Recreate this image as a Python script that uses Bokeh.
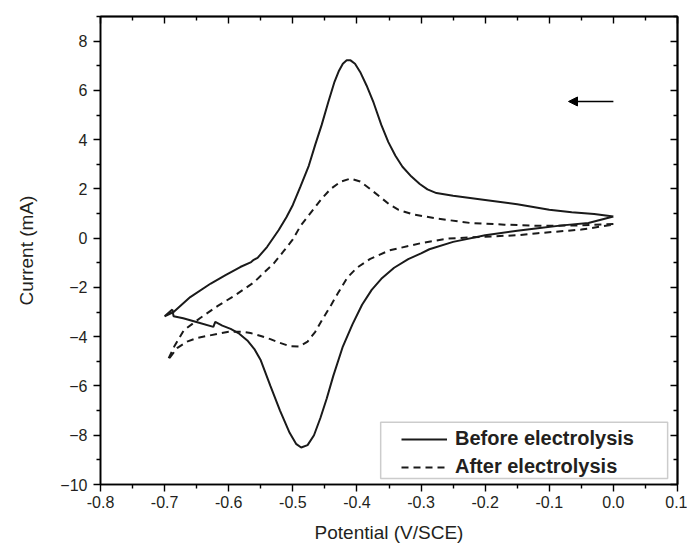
from bokeh.plotting import figure
from bokeh.models import (LinearAxis, FixedTicker, PrintfTickFormatter, Legend, LegendItem,
                          Arrow, NormalHead, BoxAnnotation, Range1d)
from bokeh.embed import file_html
from bokeh.resources import INLINE

# ---- data ----
before_x = [0.0, -0.03, -0.065, -0.1, -0.15, -0.2, -0.25, -0.276, -0.29, -0.302, -0.315, -0.329,
            -0.34, -0.351, -0.362, -0.374, -0.385, -0.395, -0.403, -0.41, -0.416, -0.422, -0.428,
            -0.435, -0.445, -0.455, -0.465, -0.475, -0.488, -0.5, -0.51, -0.522, -0.54, -0.555,
            -0.561, -0.565, -0.582, -0.605, -0.628, -0.66, -0.686, -0.70, -0.688, -0.686,
            -0.671, -0.649, -0.624, -0.621, -0.61, -0.597, -0.585, -0.571, -0.56, -0.55, -0.535,
            -0.52, -0.505, -0.495, -0.487, -0.477, -0.467, -0.457, -0.447, -0.437, -0.422, -0.407,
            -0.392, -0.377, -0.362, -0.342, -0.32, -0.3, -0.287, -0.25, -0.2, -0.15, -0.118,
            -0.08, -0.039, 0.0]
before_y = [0.88, 0.98, 1.05, 1.15, 1.38, 1.55, 1.72, 1.83, 1.98, 2.2, 2.5, 2.9,
            3.35, 3.9, 4.6, 5.5, 6.2, 6.75, 7.08, 7.22, 7.22, 7.08, 6.8,
            6.35, 5.5, 4.6, 3.8, 2.95, 2.1, 1.35, 0.85, 0.33, -0.35, -0.8,
            -0.88, -0.97, -1.17, -1.5, -1.84, -2.39, -3.0, -3.17, -2.9, -3.17,
            -3.25, -3.41, -3.6, -3.4, -3.55, -3.68, -3.85, -4.15, -4.5, -4.96, -6.0,
            -7.0, -7.9, -8.35, -8.5, -8.4, -8.0, -7.3, -6.5, -5.6, -4.4, -3.5,
            -2.7, -2.1, -1.65, -1.2, -0.85, -0.62, -0.45, -0.15, 0.12, 0.3, 0.4,
            0.52, 0.62, 0.88]

after_x = [0.0, -0.05, -0.118, -0.17, -0.224, -0.276, -0.313, -0.335, -0.35, -0.365, -0.382,
           -0.395, -0.41, -0.425, -0.441, -0.455, -0.467, -0.488, -0.5, -0.515, -0.53, -0.545,
           -0.561, -0.589, -0.617, -0.645, -0.67, -0.685, -0.695,
           -0.68, -0.665, -0.649, -0.63, -0.617, -0.6, -0.58, -0.566, -0.55, -0.535, -0.52,
           -0.505, -0.49, -0.477, -0.465, -0.454, -0.44, -0.43, -0.415, -0.4, -0.38, -0.35,
           -0.3, -0.26, -0.2, -0.15, -0.118, -0.05, 0.0]
after_y = [0.58, 0.52, 0.5, 0.55, 0.62, 0.8, 0.97, 1.15, 1.38, 1.7, 2.05,
           2.3, 2.42, 2.3, 2.0, 1.6, 1.2, 0.5, -0.05, -0.55, -1.03, -1.4,
           -1.8, -2.3, -2.75, -3.25, -3.74, -4.4, -4.95,
           -4.45, -4.2, -4.05, -3.95, -3.88, -3.8, -3.8, -3.85, -3.97, -4.1, -4.25,
           -4.38, -4.4, -4.2, -3.8, -3.3, -2.7, -2.25, -1.6, -1.2, -0.85, -0.5,
           -0.2, -0.02, 0.06, 0.12, 0.2, 0.35, 0.55]

x_ticks = [-0.8, -0.7, -0.6, -0.5, -0.4, -0.3, -0.2, -0.1, 0.0, 0.1]
x_minor = [-0.75, -0.65, -0.55, -0.45, -0.35, -0.25, -0.15, -0.05, 0.05]
y_ticks = [-10, -8, -6, -4, -2, 0, 2, 4, 6, 8]
y_minor = [-9, -7, -5, -3, -1, 1, 3, 5, 7, 9]
x_range = (-0.8, 0.1)
y_range = (-10, 9)
series_labels = ["Before electrolysis", "After electrolysis"]

# scan direction arrow (data units)
arrow_start = (0.0, 5.55)
arrow_end = (-0.07, 5.55)
# legend frame (data units)
legend_box = (-0.363, 0.0846, -9.76, -7.47)

FONT = "Liberation Sans"
TXT = "#231f20"

p = figure(frame_width=577, frame_height=468, output_backend="svg", toolbar_location=None,
           x_range=Range1d(*x_range), y_range=Range1d(*y_range),
           x_axis_location=None, y_axis_location=None,
           min_border_left=100, min_border_right=10, min_border_top=16, min_border_bottom=62)
p.grid.visible = False
p.outline_line_color = "black"
p.outline_line_width = 1.5
p.background_fill_color = "white"
p.border_fill_color = "white"

def style(ax, out=True):
    ax.axis_line_color = "black"
    ax.axis_line_width = 1.6
    ax.major_tick_line_color = "black"
    ax.minor_tick_line_color = "black"
    ax.major_tick_line_width = 1.4
    ax.minor_tick_line_width = 1.4
    ax.major_tick_out, ax.major_tick_in = 7, 0
    ax.minor_tick_out, ax.minor_tick_in = 4, 0
    ax.major_label_text_font = FONT
    ax.major_label_text_color = TXT
    ax.axis_label_text_font = FONT
    ax.axis_label_text_color = TXT
    ax.axis_label_text_font_style = "normal"

def mirror(ticks, length, side):
    # tick-only axis on the mirror side (ticks drawn inward, no labels)
    ax = LinearAxis(ticker=FixedTicker(ticks=[], minor_ticks=ticks))
    ax.axis_line_color = "black"
    ax.axis_line_width = 1.6
    ax.minor_tick_line_color = "black"
    ax.minor_tick_line_width = 1.4
    ax.minor_tick_in = length
    ax.minor_tick_out = 0
    ax.major_tick_in = 0
    ax.major_tick_out = 0
    ax.major_label_standoff = 0
    p.add_layout(ax, side)

xt = FixedTicker(ticks=x_ticks, minor_ticks=x_minor)
yt = FixedTicker(ticks=y_ticks, minor_ticks=y_minor)

bottom = LinearAxis(ticker=xt, formatter=PrintfTickFormatter(format="%.1f"),
                    axis_label="Potential (V/SCE)")
style(bottom)
bottom.major_label_text_font_size = "16px"
bottom.axis_label_text_font_size = "19px"
bottom.major_label_standoff = 4
bottom.axis_label_standoff = 11
p.add_layout(bottom, "below")

left = LinearAxis(ticker=yt, axis_label="Current (mA)")
style(left)
left.major_label_text_font_size = "16px"
left.axis_label_text_font_size = "19px"
left.major_label_standoff = 6
left.axis_label_standoff = 20
p.add_layout(left, "left")

mirror(x_ticks, 7, "above")
mirror(x_minor, 4, "above")
mirror(y_ticks, 7, "right")
mirror(y_minor, 4, "right")

r1 = p.line(before_x, before_y, line_color="#1a1a1a", line_width=2)
r2 = p.line(after_x, after_y, line_color="#1a1a1a", line_width=2, line_dash="7 5")

box = BoxAnnotation(left=legend_box[0], right=legend_box[1], bottom=legend_box[2], top=legend_box[3],
                    fill_color="white", fill_alpha=1.0, line_color="#555555", line_width=1.5)
p.add_layout(box)

legend = Legend(items=[LegendItem(label=series_labels[0], renderers=[r1]),
                       LegendItem(label=series_labels[1], renderers=[r2])],
                location=(301, 6), padding=5, spacing=5, margin=0,
                glyph_width=46, glyph_height=20, label_height=20, label_standoff=8,
                label_text_font=FONT, label_text_font_style="bold", label_text_font_size="20px",
                label_text_color=TXT, border_line_color=None, background_fill_alpha=0)
p.add_layout(legend, "center")

p.add_layout(Arrow(end=NormalHead(size=9, fill_color="black", line_color="black"),
                   x_start=arrow_start[0], y_start=arrow_start[1],
                   x_end=arrow_end[0], y_end=arrow_end[1], line_width=1.5, line_color="black"))

open("out.html", "w").write(file_html(p, INLINE))
